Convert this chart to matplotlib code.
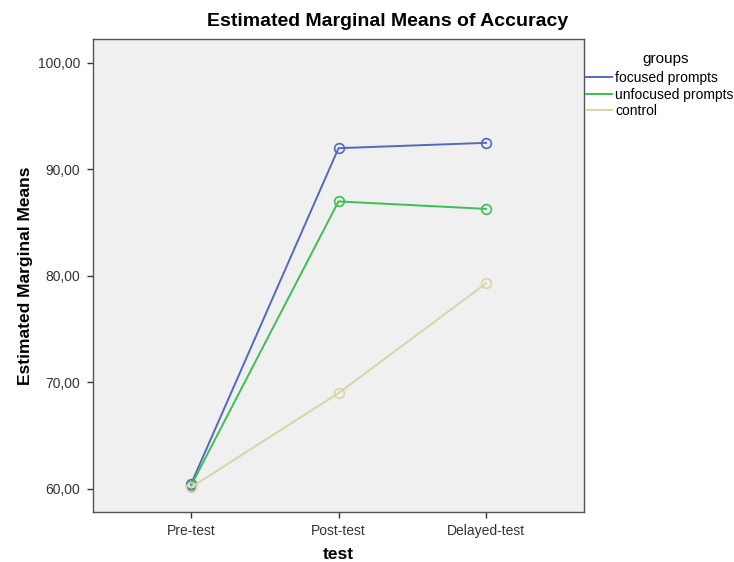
import matplotlib.pyplot as plt
from matplotlib.ticker import FuncFormatter

plt.rcParams["font.family"] = ["Liberation Sans", "DejaVu Sans"]

tests = ["Pre-test", "Post-test", "Delayed-test"]
groups = ["focused prompts", "unfocused prompts", "control"]
focused = [60.45, 92.0, 92.5]
unfocused = [60.3, 87.0, 86.3]
control = [60.15, 69.0, 79.3]
colors = ["#5468c0", "#3cc053", "#d9d5a6"]

fig = plt.figure(figsize=(7.34, 5.62), dpi=100)
ax = fig.add_axes([0.1267, 0.089, 0.669, 0.8416])
ax.set_facecolor("#f0f0f0")

x = range(len(tests))
for vals, name, c in zip([focused, unfocused, control], groups, colors):
    ax.plot(x, vals, color=c, lw=1.4, marker="o", markersize=7,
            markerfacecolor="none", markeredgecolor=c, markeredgewidth=1.2, label=name)

ax.set_xlim(-0.664, 2.664)
ax.set_ylim(57.84, 102.25)
ax.set_xticks(list(x))
ax.set_xticklabels(tests)
ax.set_yticks([60, 70, 80, 90, 100])
ax.yaxis.set_major_formatter(FuncFormatter(lambda v, p: f"{v:.2f}".replace(".", ",")))
ax.tick_params(labelsize=10, length=4, width=1, colors="#333333", pad=5)
for s in ax.spines.values():
    s.set_color("#555555")
    s.set_linewidth(1)

ax.set_xlabel("test", fontsize=12.5, fontweight="bold", labelpad=6)
ax.set_ylabel("Estimated Marginal Means", fontsize=12.5, fontweight="bold", labelpad=4)
fig.text(388 / 734, 1 - 22 / 562, "Estimated Marginal Means of Accuracy",
         ha="center", va="center", fontsize=14, fontweight="bold")

leg = fig.legend(loc="upper left", bbox_to_anchor=(586 / 734, 1 - 54 / 562), frameon=False,
                 title="groups", fontsize=10, title_fontsize=11,
                 handlelength=1.9, handletextpad=0.2, labelspacing=0.2,
                 borderaxespad=0.0, borderpad=0.0)
leg.get_title().set_position((6, 2))
for h in leg.legend_handles:
    h.set_marker("")

fig.savefig("out.png", dpi=100)
